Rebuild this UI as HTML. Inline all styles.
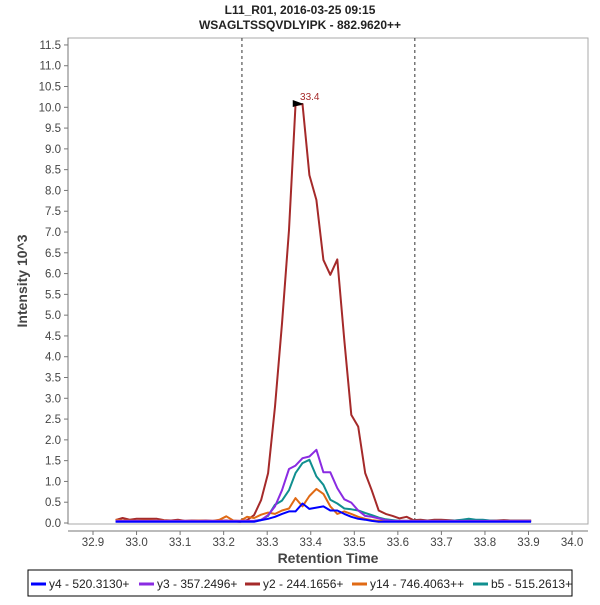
<!DOCTYPE html>
<html><head><meta charset="utf-8"><style>
body{margin:0;background:#fff;font-family:"Liberation Sans",sans-serif;}
svg text{font-family:"Liberation Sans",sans-serif;}
</style></head><body>
<svg id="chart" width="600" height="600" xmlns="http://www.w3.org/2000/svg">
<text x="300" y="14" text-anchor="middle" font-size="12" font-weight="bold" fill="#222">L11_R01, 2016-03-25 09:15</text>
<text x="300" y="29" text-anchor="middle" font-size="12" font-weight="bold" fill="#222">WSAGLTSSQVDLYIPK - 882.9620++</text>
<rect x="68" y="38" width="520" height="486" fill="#fff" stroke="#aaa"/>
<g id="yaxis"></g>
<g id="xaxis"></g>
<g id="marks"></g>
<text transform="translate(27,281) rotate(-90)" text-anchor="middle" font-size="14" font-weight="bold" fill="#444">Intensity 10^3</text>
<text x="328" y="563" text-anchor="middle" font-size="14" font-weight="bold" fill="#444">Retention Time</text>
<g>
<rect x="28" y="570" width="544" height="26" fill="#fff" stroke="#000"/>
<g id="legend"></g>
</g>
</svg>
<script>
const times=[32.952,32.968,32.984,33.000,33.016,33.032,33.047,33.063,33.079,33.095,33.111,33.127,33.143,33.159,33.175,33.191,33.206,33.222,33.238,33.254,33.270,33.286,33.302,33.318,33.334,33.350,33.365,33.381,33.397,33.413,33.429,33.445,33.461,33.477,33.493,33.509,33.525,33.540,33.556,33.572,33.588,33.604,33.620,33.636,33.652,33.668,33.684,33.699,33.715,33.731,33.747,33.763,33.779,33.795,33.811,33.827,33.843,33.858,33.874,33.890,33.906];
const y4=[0.03,0.03,0.03,0.03,0.03,0.03,0.03,0.03,0.03,0.03,0.03,0.03,0.03,0.03,0.03,0.03,0.03,0.03,0.03,0.03,0.03,0.07,0.1,0.15,0.22,0.28,0.28,0.47,0.34,0.37,0.4,0.3,0.3,0.22,0.15,0.1,0.08,0.05,0.03,0.03,0.03,0.03,0.03,0.03,0.03,0.03,0.03,0.03,0.03,0.03,0.03,0.03,0.03,0.03,0.03,0.03,0.03,0.03,0.03,0.03,0.03];
const y3=[0.05,0.05,0.05,0.05,0.05,0.05,0.05,0.05,0.05,0.05,0.05,0.05,0.05,0.05,0.05,0.05,0.05,0.05,0.05,0.05,0.05,0.07,0.19,0.4,0.79,1.3,1.38,1.56,1.6,1.76,1.22,1.22,0.84,0.57,0.49,0.3,0.17,0.15,0.11,0.07,0.05,0.05,0.05,0.05,0.05,0.05,0.05,0.05,0.05,0.05,0.05,0.05,0.05,0.05,0.05,0.05,0.05,0.05,0.05,0.05,0.05];
const y2=[0.07,0.12,0.08,0.1,0.1,0.1,0.1,0.07,0.06,0.08,0.05,0.06,0.06,0.06,0.05,0.05,0.06,0.04,0.03,0.07,0.19,0.55,1.2,2.8,4.8,7.05,10.05,10.08,8.37,7.77,6.33,5.97,6.34,4.4,2.6,2.32,1.2,0.79,0.3,0.22,0.17,0.11,0.15,0.07,0.08,0.06,0.08,0.08,0.07,0.06,0.07,0.06,0.06,0.06,0.06,0.06,0.07,0.06,0.06,0.06,0.06];
const y14=[0.08,0.06,0.06,0.05,0.06,0.06,0.05,0.06,0.05,0.05,0.05,0.05,0.06,0.05,0.05,0.08,0.16,0.06,0.05,0.15,0.12,0.2,0.25,0.22,0.3,0.35,0.6,0.4,0.65,0.82,0.7,0.4,0.22,0.28,0.22,0.15,0.1,0.07,0.05,0.05,0.05,0.05,0.05,0.05,0.05,0.05,0.05,0.05,0.05,0.05,0.05,0.05,0.05,0.05,0.05,0.05,0.05,0.05,0.05,0.05,0.05];
const b5=[0.04,0.04,0.04,0.04,0.04,0.04,0.04,0.04,0.04,0.04,0.04,0.04,0.04,0.04,0.04,0.04,0.04,0.04,0.04,0.04,0.05,0.08,0.17,0.44,0.54,0.79,1.2,1.44,1.52,1.12,0.92,0.56,0.47,0.35,0.33,0.3,0.24,0.19,0.13,0.09,0.07,0.05,0.05,0.05,0.05,0.05,0.05,0.05,0.05,0.06,0.08,0.1,0.08,0.08,0.06,0.05,0.05,0.05,0.05,0.05,0.05];
const xTicks=["32.9","33.0","33.1","33.2","33.3","33.4","33.5","33.6","33.7","33.8","33.9","34.0"];
const yTicks=["0.0","0.5","1.0","1.5","2.0","2.5","3.0","3.5","4.0","4.5","5.0","5.5","6.0","6.5","7.0","7.5","8.0","8.5","9.0","9.5","10.0","10.5","11.0","11.5"];
const boundaries=[33.242,33.639];
const peakTime=33.4, peakValue=10.08;
const seriesNames=["y4 - 520.3130+","y3 - 357.2496+","y2 - 244.1656+","y14 - 746.4063++","b5 - 515.2613+"];
const seriesColors=["#0000ff","#8a2be2","#a52a2a","#e06a14","#108f8f"];

const NS="http://www.w3.org/2000/svg";
const X=t=>93+(t-32.9)*435.5;
const Y=v=>523-v*41.57;
function mk(tag,attrs,parent){const e=document.createElementNS(NS,tag);for(const k in attrs)e.setAttribute(k,attrs[k]);parent.appendChild(e);return e;}
const ya=document.getElementById('yaxis'),xa=document.getElementById('xaxis'),mg=document.getElementById('marks'),lg=document.getElementById('legend');
yTicks.forEach(s=>{const y=Y(parseFloat(s));
 mk('line',{x1:64,x2:68,y1:y,y2:y,stroke:'#777'},ya);
 const t=mk('text',{x:61,y:y+4,'text-anchor':'end','font-size':11.5,fill:'#444'},ya);t.textContent=s;
 
 });
mk('line',{x1:68,x2:68,y1:38,y2:524,stroke:'#777'},ya);
mk('line',{x1:68,x2:588,y1:531,y2:531,stroke:'#777'},xa);
xTicks.forEach(s=>{const x=X(parseFloat(s));
 mk('line',{x1:x,x2:x,y1:531,y2:535,stroke:'#777'},xa);
 const t=mk('text',{x:x,y:546,'text-anchor':'middle','font-size':11.5,fill:'#444'},xa);t.textContent=s;
 
 });
boundaries.forEach(b=>{const l=mk('line',{x1:X(b),x2:X(b),y1:38,y2:524,stroke:'#333','stroke-dasharray':'3,3'},mg);
 
 });
const data=[y4,y3,y2,y14,b5];
[2,3,4,1,0].forEach(k=>{const arr=data[k];
 const p=mk('polyline',{points:arr.map((v,i)=>X(times[i]).toFixed(1)+','+Y(v).toFixed(1)).join(' '),fill:'none',stroke:seriesColors[k],'stroke-width':2,'stroke-linejoin':'round'},mg);
 
 });
const px=X(peakTime)-9,py=Y(peakValue);
const tri=mk('polygon',{points:`${px-9},${py-4} ${px-9},${py+3} ${px+2},${py}`,fill:'#000'},mg);


const pl=mk('text',{x:X(peakTime)-1,y:py-4,'text-anchor':'middle','font-size':10,fill:'#a52a2a'},mg);pl.textContent=peakTime.toFixed(1);


const lx=[31,139,245,352,473];
seriesNames.forEach((n,k)=>{const g=mk('g',{},lg);
 
 
 mk('line',{x1:lx[k],x2:lx[k]+15,y1:584,y2:584,stroke:seriesColors[k],'stroke-width':3},g);
 const t=mk('text',{x:lx[k]+18,y:588,'font-size':12,fill:'#222'},g);t.textContent=n;});
</script>
</body></html>
